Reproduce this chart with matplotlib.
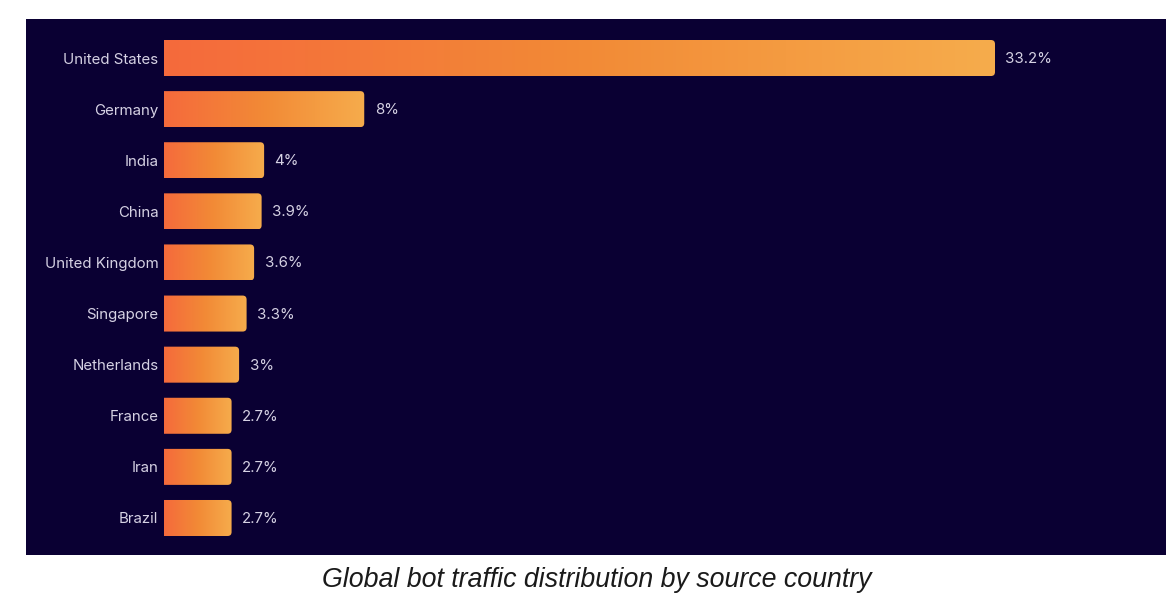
import numpy as np
import matplotlib.pyplot as plt
from matplotlib.patches import FancyBboxPatch
from matplotlib.colors import LinearSegmentedColormap

countries = ['United States', 'Germany', 'India', 'China', 'United Kingdom',
             'Singapore', 'Netherlands', 'France', 'Iran', 'Brazil']
shares = [33.2, 8, 4, 3.9, 3.6, 3.3, 3, 2.7, 2.7, 2.7]
value_labels = ['33.2%', '8%', '4%', '3.9%', '3.6%', '3.3%', '3%', '2.7%', '2.7%', '2.7%']
caption = 'Global bot traffic distribution by source country'

W, H = 1174, 606
bg = '#0a0033'
txt = '#d6d2e4'
cmap = LinearSegmentedColormap.from_list('bar', ['#f56a3c', '#f28a36', '#f6ac4c'])

fig = plt.figure(figsize=(W / 100, H / 100), dpi=100)
fig.patch.set_facecolor('white')

# dark panel behind everything
x0, x1 = 164, 1166
y0, y1 = 19, 555
panel = fig.add_axes([26 / W, 1 - y1 / H, (x1 - 26) / W, (y1 - y0) / H], zorder=0)
panel.set_facecolor(bg)
panel.set_xticks([]); panel.set_yticks([])
for s in panel.spines.values():
    s.set_visible(False)

px_per_pct = (995 - 164) / 33.2
step = 51.1
ax = fig.add_axes([x0 / W, 1 - y1 / H, (x1 - x0) / W, (y1 - y0) / H], zorder=1)
ax.patch.set_alpha(0)
for s in ax.spines.values():
    s.set_visible(False)

bh = 36 / step
r = 4 / px_per_pct
grad = np.linspace(0, 1, 256).reshape(1, -1)
for i, v in enumerate(shares):
    patch = FancyBboxPatch((-1, i - bh / 2), v + 1, bh,
                           boxstyle='round,pad=0,rounding_size=%f' % r,
                           mutation_aspect=px_per_pct / step,
                           facecolor='none', edgecolor='none')
    ax.add_patch(patch)
    im = ax.imshow(grad, cmap=cmap, aspect='auto', extent=[0, v, i + bh / 2, i - bh / 2],
                   interpolation='bilinear')
    im.set_clip_path(patch)
    ax.annotate(value_labels[i], (v, i), xytext=(7.5, -0.7), textcoords='offset points',
                va='center', ha='left', color=txt, fontsize=10.8, family='Inter')

ax.set_xlim(0, (x1 - x0) / px_per_pct)
ax.set_ylim(9 + (y1 - 518) / step, -(58 - y0) / step)
ax.set_xticks([])
ax.set_yticks(range(len(countries)))
ax.set_yticklabels(countries, color=txt, fontsize=10.8, family='Inter')
ax.tick_params(axis='y', length=0, pad=4)

fig.text(597 / W, 1 - 580 / H, caption, ha='center', va='center', fontsize=19.3,
         style='italic', family='Liberation Sans', color='#1a1a1a')

fig.savefig('out.png', dpi=100, facecolor='white')
